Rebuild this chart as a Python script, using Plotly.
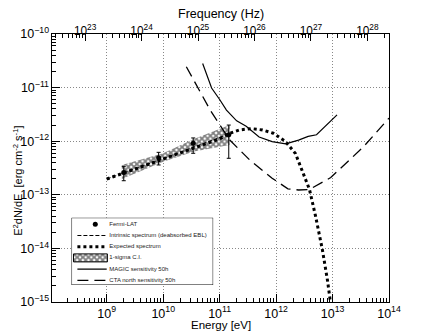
import plotly.graph_objects as go

H_EV = 4.135667e-15  # Planck constant in eV s, for the frequency axis

# Fermi-LAT points (energy in eV, E2dN/dE in erg cm-2 s-1)
fermi_e = [2.0e9, 8.3e9, 3.4e10, 1.45e11]
fermi_f = [2.6e-13, 4.9e-13, 9.2e-13, 1.32e-12]
fermi_hi = [3.35e-13, 6.2e-13, 1.15e-12, 2.0e-12]
fermi_lo = [1.83e-13, 3.6e-13, 5.95e-13, 4.8e-13]

# 1-sigma confidence band (butterfly)
ci_e = [1.85e9, 1.0e10, 3.5e10, 1.5e11]
ci_hi = [3.6e-13, 5.95e-13, 1.1e-12, 2.0e-12]
ci_lo = [1.97e-13, 4.15e-13, 6.4e-13, 8.5e-13]

# intrinsic spectrum (deabsorbed)
intr_e = [1.0e9, 1.0e10, 1.5e11]
intr_f = [1.97e-13, 4.73e-13, 1.38e-12]

# expected spectrum
exp_e = [1.0e9, 1.0e10, 1.0e11, 1.45e11, 2.24e11, 3.63e11, 5.75e11, 8.9e11, 1.45e12,
         2.2e12, 2.8e12, 3.9e12, 5.0e12, 6.6e12, 8.1e12, 9.3e12, 9.8e12]
exp_f = [1.97e-13, 4.73e-13, 1.1e-12, 1.38e-12, 1.62e-12, 1.72e-12, 1.62e-12, 1.41e-12, 1.0e-12,
         5.9e-13, 3.16e-13, 1.26e-13, 4.0e-14, 9.5e-15, 2.6e-15, 1.0e-15, 6e-16]

# MAGIC sensitivity 50h
magic_e = [5.0e10, 7.2e10, 1.0e11, 1.32e11, 2.0e11, 2.95e11, 5.0e11, 8.5e11, 1.48e12,
           2.5e12, 3.7e12, 5.2e12, 1.2e13]
magic_f = [2.82e-11, 9.8e-12, 6.0e-12, 3.8e-12, 2.4e-12, 1.9e-12, 1.2e-12, 9.8e-13, 8.9e-13,
           1.05e-12, 1.23e-12, 1.32e-12, 3.1e-12]

# CTA north sensitivity 50h
cta_e = [2.57e10, 3.47e10, 6.8e10, 1.51e11, 3.4e11, 8.5e11, 1.62e12, 2.5e12, 3.9e12,
         9.3e12, 1.58e13, 3.55e13, 1.0e14]
cta_f = [2.45e-11, 1.38e-11, 3.8e-12, 1.05e-12, 4.47e-13, 2.04e-13, 1.29e-13, 1.23e-13, 1.26e-13,
         2.1e-13, 3.5e-13, 7.9e-13, 2.7e-12]

legend_labels = ["Fermi-LAT", "Intrinsic spectrum (deabsorbed EBL)", "Expected spectrum",
                 "1-sigma C.I.", "MAGIC sensitivity 50h", "CTA north sensitivity 50h"]

x_range = [8.03, 14.0]
FONT = "Liberation Sans, Arial, sans-serif"
HATCH = dict(shape="x", fgcolor="black", bgcolor="white", size=4, solidity=0.7)

fig = go.Figure()

fig.add_trace(go.Scatter(x=ci_e + ci_e[::-1], y=ci_hi + ci_lo[::-1], fill="toself",
                         mode="lines", line=dict(width=0), fillcolor="white",
                         fillpattern=HATCH, showlegend=False))
fig.add_trace(go.Scatter(x=intr_e, y=intr_f, mode="lines",
                         line=dict(color="black", width=1, dash="4px,2px"), showlegend=False))
fig.add_trace(go.Scatter(x=exp_e, y=exp_f, mode="lines",
                         line=dict(color="black", width=3, dash="3px,3px"), showlegend=False))
fig.add_trace(go.Scatter(x=magic_e, y=magic_f, mode="lines",
                         line=dict(color="black", width=1.2), showlegend=False))
fig.add_trace(go.Scatter(x=cta_e, y=cta_f, mode="lines",
                         line=dict(color="black", width=1.3, dash="11px,6px"), showlegend=False))
fig.add_trace(go.Scatter(x=fermi_e, y=fermi_f, mode="markers",
                         marker=dict(color="black", size=5),
                         error_y=dict(type="data", symmetric=False,
                                      array=[h - f for h, f in zip(fermi_hi, fermi_f)],
                                      arrayminus=[f - l for f, l in zip(fermi_f, fermi_lo)],
                                      color="black", thickness=1, width=2),
                         showlegend=False))

# invisible trace so the frequency axis is drawn
fig.add_trace(go.Scatter(x=[10 ** x_range[0] / H_EV], y=[1e-12], xaxis="x2", mode="markers",
                         marker=dict(opacity=0), showlegend=False, hoverinfo="skip"))

# hand-made legend box in its own little axes (units are pixels of the box)
lw, lh = 145, 67.3
rows = [lh - 6.6 - i * 11.2 for i in range(6)]
lg = dict(xaxis="x3", yaxis="y3", showlegend=False, hoverinfo="skip")
fig.add_trace(go.Scatter(x=[0, lw, lw, 0, 0], y=[0, 0, lh, lh, 0], fill="toself",
                         fillcolor="white", mode="lines",
                         line=dict(color="black", width=1), **lg))
fig.add_trace(go.Scatter(x=[24.3], y=[rows[0]], mode="markers",
                         marker=dict(color="black", size=5), **lg))
fig.add_trace(go.Scatter(x=[6, 36], y=[rows[1]] * 2, mode="lines",
                         line=dict(color="black", width=1, dash="4px,2px"), **lg))
fig.add_trace(go.Scatter(x=[6, 36], y=[rows[2]] * 2, mode="lines",
                         line=dict(color="black", width=3, dash="3px,3px"), **lg))
fig.add_trace(go.Scatter(x=[2, 36.7, 36.7, 2, 2],
                         y=[rows[3] - 4, rows[3] - 4, rows[3] + 4, rows[3] + 4, rows[3] - 4],
                         fill="toself", fillcolor="white", mode="lines",
                         line=dict(color="black", width=1), fillpattern=HATCH, **lg))
fig.add_trace(go.Scatter(x=[6, 36], y=[rows[4]] * 2, mode="lines",
                         line=dict(color="black", width=1.2), **lg))
fig.add_trace(go.Scatter(x=[6, 36], y=[rows[5]] * 2, mode="lines",
                         line=dict(color="black", width=1.3, dash="11px,6px"), **lg))
fig.add_trace(go.Scatter(x=[38.7] * 6, y=rows, mode="text", text=legend_labels,
                         textposition="middle right",
                         textfont=dict(family=FONT, size=6, color="#222"), **lg))

axis_common = dict(type="log", showline=True, linecolor="black", linewidth=1,
                   ticks="inside", tickcolor="black", exponentformat="power",
                   tickfont=dict(family=FONT, size=10, color="black"), zeroline=False)
grid = dict(showgrid=True, gridcolor="#888", griddash="1px,2px", gridwidth=1)
minor = dict(ticks="inside", ticklen=4, dtick="D1", tickcolor="black", showgrid=False)

# the page body has an 8px margin, so the margins here are 8px smaller
fig.update_layout(
    width=432, height=336,
    margin=dict(l=36, r=51, t=26, b=42),
    paper_bgcolor="white", plot_bgcolor="white",
    font=dict(family=FONT, color="black"),
    xaxis=dict(axis_common, range=x_range, dtick=1, ticklen=8, minor=minor, **grid),
    xaxis2=dict(axis_common, overlaying="x", side="top", anchor="y",
                range=[x_range[0] + 14.38346, x_range[1] + 14.38346], dtick=1, ticklen=7,
                showgrid=False, tickfont=dict(family=FONT, size=9.5, color="black"),
                ticklabelstandoff=-6, minor=dict(minor, ticklen=3.5)),
    yaxis=dict(axis_common, range=[-15, -10], dtick=1, ticklen=8, mirror=True,
               minor=minor, **grid),
    xaxis3=dict(domain=[(64 - 44) / 345, (209 - 44) / 345], range=[0, lw], anchor="y3",
                visible=False, fixedrange=True),
    yaxis3=dict(domain=[(302 - 285) / 268, (302 - 217.7) / 268], range=[0, lh], anchor="x3",
                visible=False, fixedrange=True),
    annotations=[
        dict(text="Frequency (Hz)", x=0.5, y=(302 - 14) / 268, xref="paper", yref="paper",
             xanchor="center", yanchor="middle", showarrow=False, font=dict(size=12.5)),
        dict(text="Energy [eV]", x=(217 - 44) / 345, y=(302 - 325) / 268, xref="paper",
             yref="paper", xanchor="center", yanchor="middle", showarrow=False,
             font=dict(size=11.5)),
        dict(text="E<sup>2</sup>dN/dE  [erg cm<sup>-2</sup> s<sup>-1</sup>]",
             x=(9 - 44) / 345, y=(302 - 181) / 268, xref="paper", yref="paper",
             xanchor="center", yanchor="middle", textangle=-90, showarrow=False,
             font=dict(size=11)),
    ],
)

fig.write_html("out.html")
